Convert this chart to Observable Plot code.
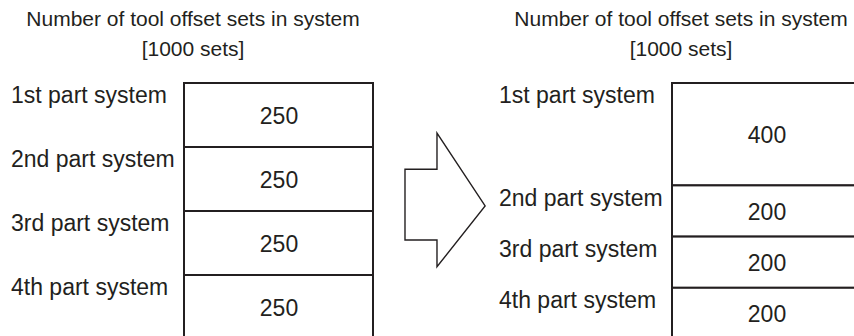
<!DOCTYPE html>
<html><head><meta charset="utf-8">
<script src="https://cdn.jsdelivr.net/npm/d3@7"></script>
<script src="https://cdn.jsdelivr.net/npm/@observablehq/plot@0.6"></script>
<style>html,body{margin:0;padding:0;background:#fff} svg{display:block}</style>
</head><body><div id="chart"></div>
<script>
// ---- data ----
const panels = ["Before", "After"];
const systems = ["1st part system", "2nd part system", "3rd part system", "4th part system"];
const beforeSets = [250, 250, 250, 250];
const afterSets = [400, 200, 200, 200];
const totalSets = 1000;
const panelTitle = "Number of tool offset sets in system\n[1000 sets]";
// block-arrow outline: [fraction across the gap between columns, position in sets]
const arrowShape = [[0.107, 337], [0.214, 337], [0.214, 196], [0.375, 480], [0.214, 718], [0.214, 613], [0.107, 613]];

const rows = [];
for (const [panel, vals] of [[panels[0], beforeSets], [panels[1], afterSets]]) {
  let acc = 0;
  vals.forEach((v, i) => { rows.push({panel, system: systems[i], value: v, y1: acc, y2: acc + v}); acc += v; });
}

const ink = "#231f20";
const font = "'Liberation Sans', Arial, Helvetica, sans-serif";

const plot = Plot.plot({
  width: 854,
  height: 336,
  margin: 0,
  style: {fontFamily: font, background: "#fff", color: ink},
  x: {type: "band", domain: panels, range: [184, 861], paddingInner: 0.613, paddingOuter: 0, axis: null},
  y: {domain: [0, totalSets], range: [83, 339], axis: null},
  marks: [
    Plot.barY(rows, {x: "panel", y1: "y1", y2: "y2", fill: "white", stroke: ink, strokeWidth: 2, insetLeft: 0, insetRight: 0}),
    Plot.text(rows, {x: "panel", y: d => (d.y1 + d.y2) / 2, text: d => String(d.value), fontSize: 23, fill: ink, dy: 1, fontFamily: font}),
    Plot.text(rows, {x: "panel", y: "y1", text: "system", textAnchor: "start", dx: -268, dy: 12.5, fontSize: 23, fill: ink, fontFamily: font}),
    Plot.text(panels, {x: d => d, text: () => panelTitle, frameAnchor: "top", lineAnchor: "top", dy: 5, dx: -86, fontSize: 21, lineHeight: 1.4, fill: ink, fontFamily: font})
  ]
});

// block arrow between the two columns, positioned through the plot's scales
const xs = plot.scale("x"), ys = plot.scale("y");
const gapStart = xs.apply(panels[0]) + xs.bandwidth;
const gapEnd = xs.apply(panels[1]);
const line = d3.line().x(d => gapStart + d[0] * (gapEnd - gapStart)).y(d => ys.apply(d[1]));
d3.select(plot).append("path")
  .attr("d", line(arrowShape) + "Z")
  .attr("fill", "white")
  .attr("stroke", ink)
  .attr("stroke-width", 1.4)
  .attr("stroke-linejoin", "miter");

document.getElementById("chart").appendChild(plot);
</script>
</body></html>
